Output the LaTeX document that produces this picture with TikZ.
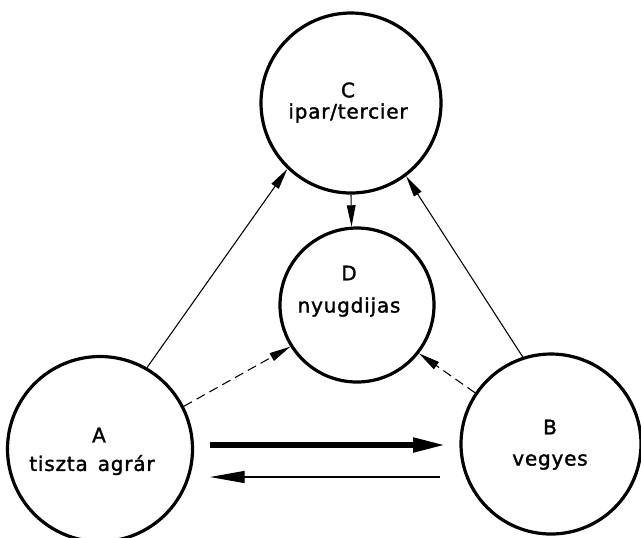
\documentclass[tikz,border=0pt]{standalone}
\usepackage{fontspec}
\setmainfont{DejaVu Sans}[LetterSpace=4,FakeBold=1.5]
\usetikzlibrary{arrows.meta}
\begin{document}
\begin{tikzpicture}[x=0.75pt,y=-0.75pt,
  state/.style={circle, draw, line width=2.4pt, inner sep=0pt},
  lbl/.style={font=\fontsize{15}{18}\selectfont, inner sep=0pt},
  conn/.style={line width=0.8pt, -{Triangle[length=16pt,width=6.5pt]}},
  dconn/.style={conn, dash pattern=on 7pt off 4pt},
  thickarr/.style={line width=3.8pt, -{Triangle[length=24pt,width=10.5pt]}},
  thinarr/.style={line width=1pt, -{Triangle[length=26pt,width=9pt]}}]
\useasboundingbox (0,0) rectangle (641,537);
% circles
\node[state, minimum size=135pt] (C) at (351,103) {};
\node[state, minimum size=115.5pt] (D) at (357,305) {};
\node[state, minimum size=138.75pt] (A) at (100,449) {};
\node[state, minimum size=135pt] (B) at (551,444) {};
% labels
\node[lbl] (Ct1) at (348,90) {C};
\node[lbl] (Ct2) at (348,113) {ipar/tercier};
\node[lbl] (Dt1) at (349,273) {D};
\node[lbl] (Dt2) at (349,307) {nyugdijas};
\node[lbl] (At1) at (99,435) {A};
\node[lbl] (At2) at (92,465) {tiszta\enspace agrár};
\node[lbl] (Bt1) at (550,427) {B};
\node[lbl] (Bt2) at (550,462) {vegyes};
% connectors
\draw[conn] (A.60) -- (C.226);
\draw[conn] (B.108) -- (C.-53);
\draw[conn] (C.-90) -- (D.94);
\draw[dconn] (A.27) -- (D.212);
\draw[dconn] (B.146) -- (D.-38);
% horizontal arrows between A and B
\coordinate (t1) at (210,445);
\coordinate (t2) at (445,445);
\coordinate (r1) at (440,477);
\coordinate (r2) at (210,477);
\draw[thickarr] (t1) -- (t2);
\draw[thinarr] (r1) -- (r2);
\end{tikzpicture}
\end{document}
